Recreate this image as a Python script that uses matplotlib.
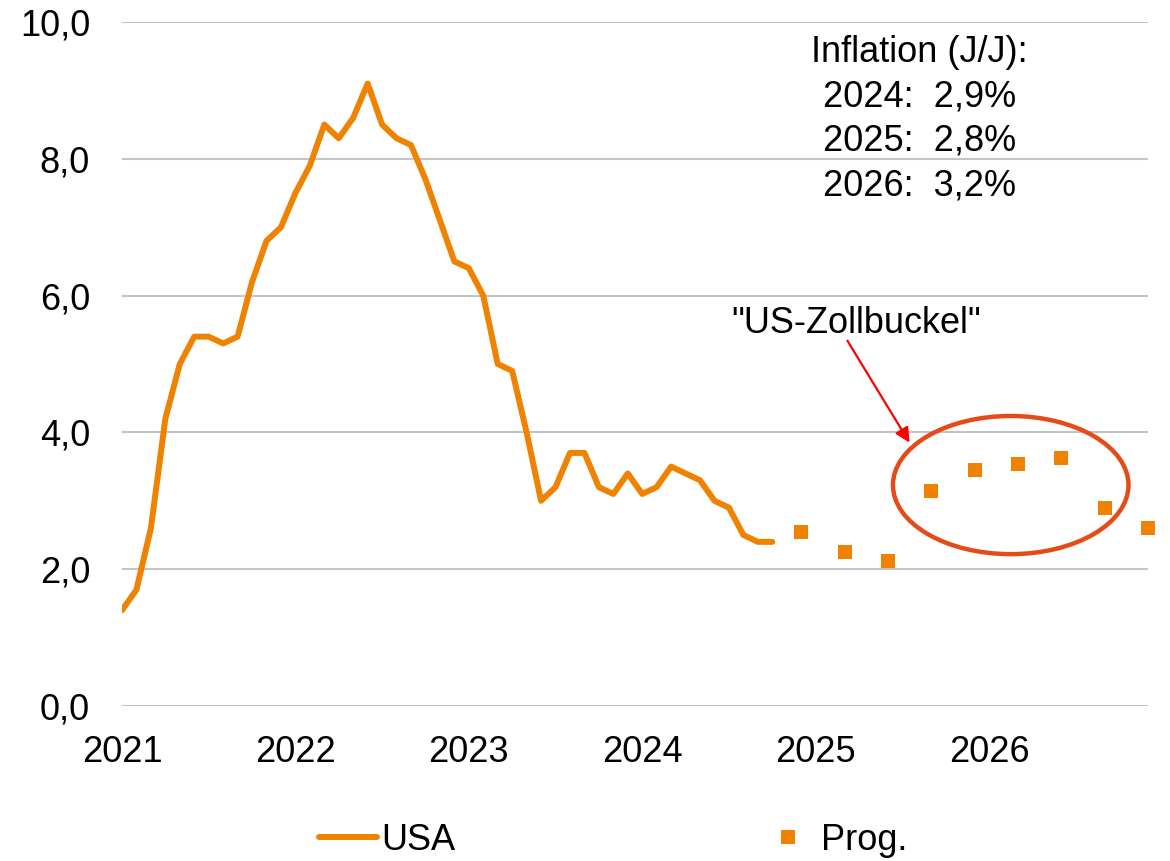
import matplotlib
matplotlib.use("Agg")
import matplotlib.pyplot as plt
from matplotlib.patches import Ellipse
from matplotlib.lines import Line2D

plt.rcParams['font.family'] = ['Liberation Sans', 'DejaVu Sans']

# Monthly US inflation (y/y, %), Jan 2021 - Oct 2024
usa_values = [1.4, 1.7, 2.6, 4.2, 5.0, 5.4, 5.4, 5.3, 5.4, 6.2, 6.8, 7.0,
              7.5, 7.9, 8.5, 8.3, 8.6, 9.1, 8.5, 8.3, 8.2, 7.7, 7.1, 6.5,
              6.4, 6.0, 5.0, 4.9, 4.0, 3.0, 3.2, 3.7, 3.7, 3.2, 3.1, 3.4,
              3.1, 3.2, 3.5, 3.4, 3.3, 3.0, 2.9, 2.5, 2.4, 2.4]
usa_months = list(range(len(usa_values)))  # month index from Jan 2021

# Quarterly forecasts (month index: Dec 2024 ... Dec 2026)
prog_months = [47, 50, 53, 56, 59, 62, 65, 68, 71]
prog_values = [2.54, 2.25, 2.12, 3.14, 3.45, 3.54, 3.62, 2.90, 2.60]

year_labels = ['2021', '2022', '2023', '2024', '2025', '2026']
ytick_values = [0, 2, 4, 6, 8, 10]
ytick_labels = ['0,0', '2,0', '4,0', '6,0', '8,0', '10,0']

info_lines = ['Inflation (J/J):', '2024:  2,9%', '2025:  2,8%', '2026:  3,2%']
annotation_text = '"US-Zollbuckel"'

ORANGE = '#EF8200'
RED_ELL = '#E54B17'
FS = 26

fig = plt.figure(figsize=(11.7, 8.61), dpi=100)
ax = fig.add_axes([122/1170, 1 - 706/861, (1148-122)/1170, (706-22)/861])

ax.set_xlim(0, 71)
ax.set_ylim(0, 10)

for s in ax.spines.values():
    s.set_visible(False)

ax.set_yticks(ytick_values)
ax.set_yticklabels(ytick_labels)
ax.set_xticks([12 * i for i in range(len(year_labels))])
ax.set_xticklabels(year_labels)
ax.tick_params(axis='both', length=0, labelsize=FS, colors='black')
ax.tick_params(axis='y', pad=23)
ax.tick_params(axis='x', pad=21)
ax.yaxis.grid(True, color='#C4C4C4', linewidth=1.5)
ax.set_axisbelow(True)

ax.plot(usa_months, usa_values, color=ORANGE, linewidth=4.3,
        solid_capstyle='round', solid_joinstyle='round', label='USA', zorder=3)
ax.plot(prog_months, prog_values, linestyle='none', marker='s', markersize=10,
        color=ORANGE, markeredgewidth=0, label='Prog.', clip_on=False, zorder=3)

ell = Ellipse((61.5, 3.23), 16.3, 2.02, fill=False, edgecolor=RED_ELL,
              linewidth=3.2, zorder=4)
ax.add_patch(ell)

ax.annotate('', xy=(54.5, 3.85), xytext=(50.2, 5.34),
            arrowprops=dict(arrowstyle='-|>', color='#FF0000', lw=1.6,
                            mutation_scale=22, shrinkA=0, shrinkB=0))
ax.text(50.8, 5.59, annotation_text, fontsize=FS, ha='center', va='center')

info_y = [9.42, 8.76, 8.12, 7.46]
for txt, yv in zip(info_lines, info_y):
    ax.text(55.2, yv, txt, fontsize=FS, ha='center', va='baseline')

handles = [Line2D([0], [0], color=ORANGE, linewidth=4.3, solid_capstyle='round'),
           Line2D([0], [0], linestyle='none', marker='s', markersize=10,
                  color=ORANGE, markeredgewidth=0)]
fig.legend(handles, ['USA', 'Prog.'], loc='center',
           bbox_to_anchor=(613.5/1170, 1 - 840/861), ncol=2, frameon=False,
           fontsize=FS, handlelength=1.6, handletextpad=0.12,
           columnspacing=8.4, borderaxespad=0, borderpad=0)

fig.savefig('out.png', dpi=100)
